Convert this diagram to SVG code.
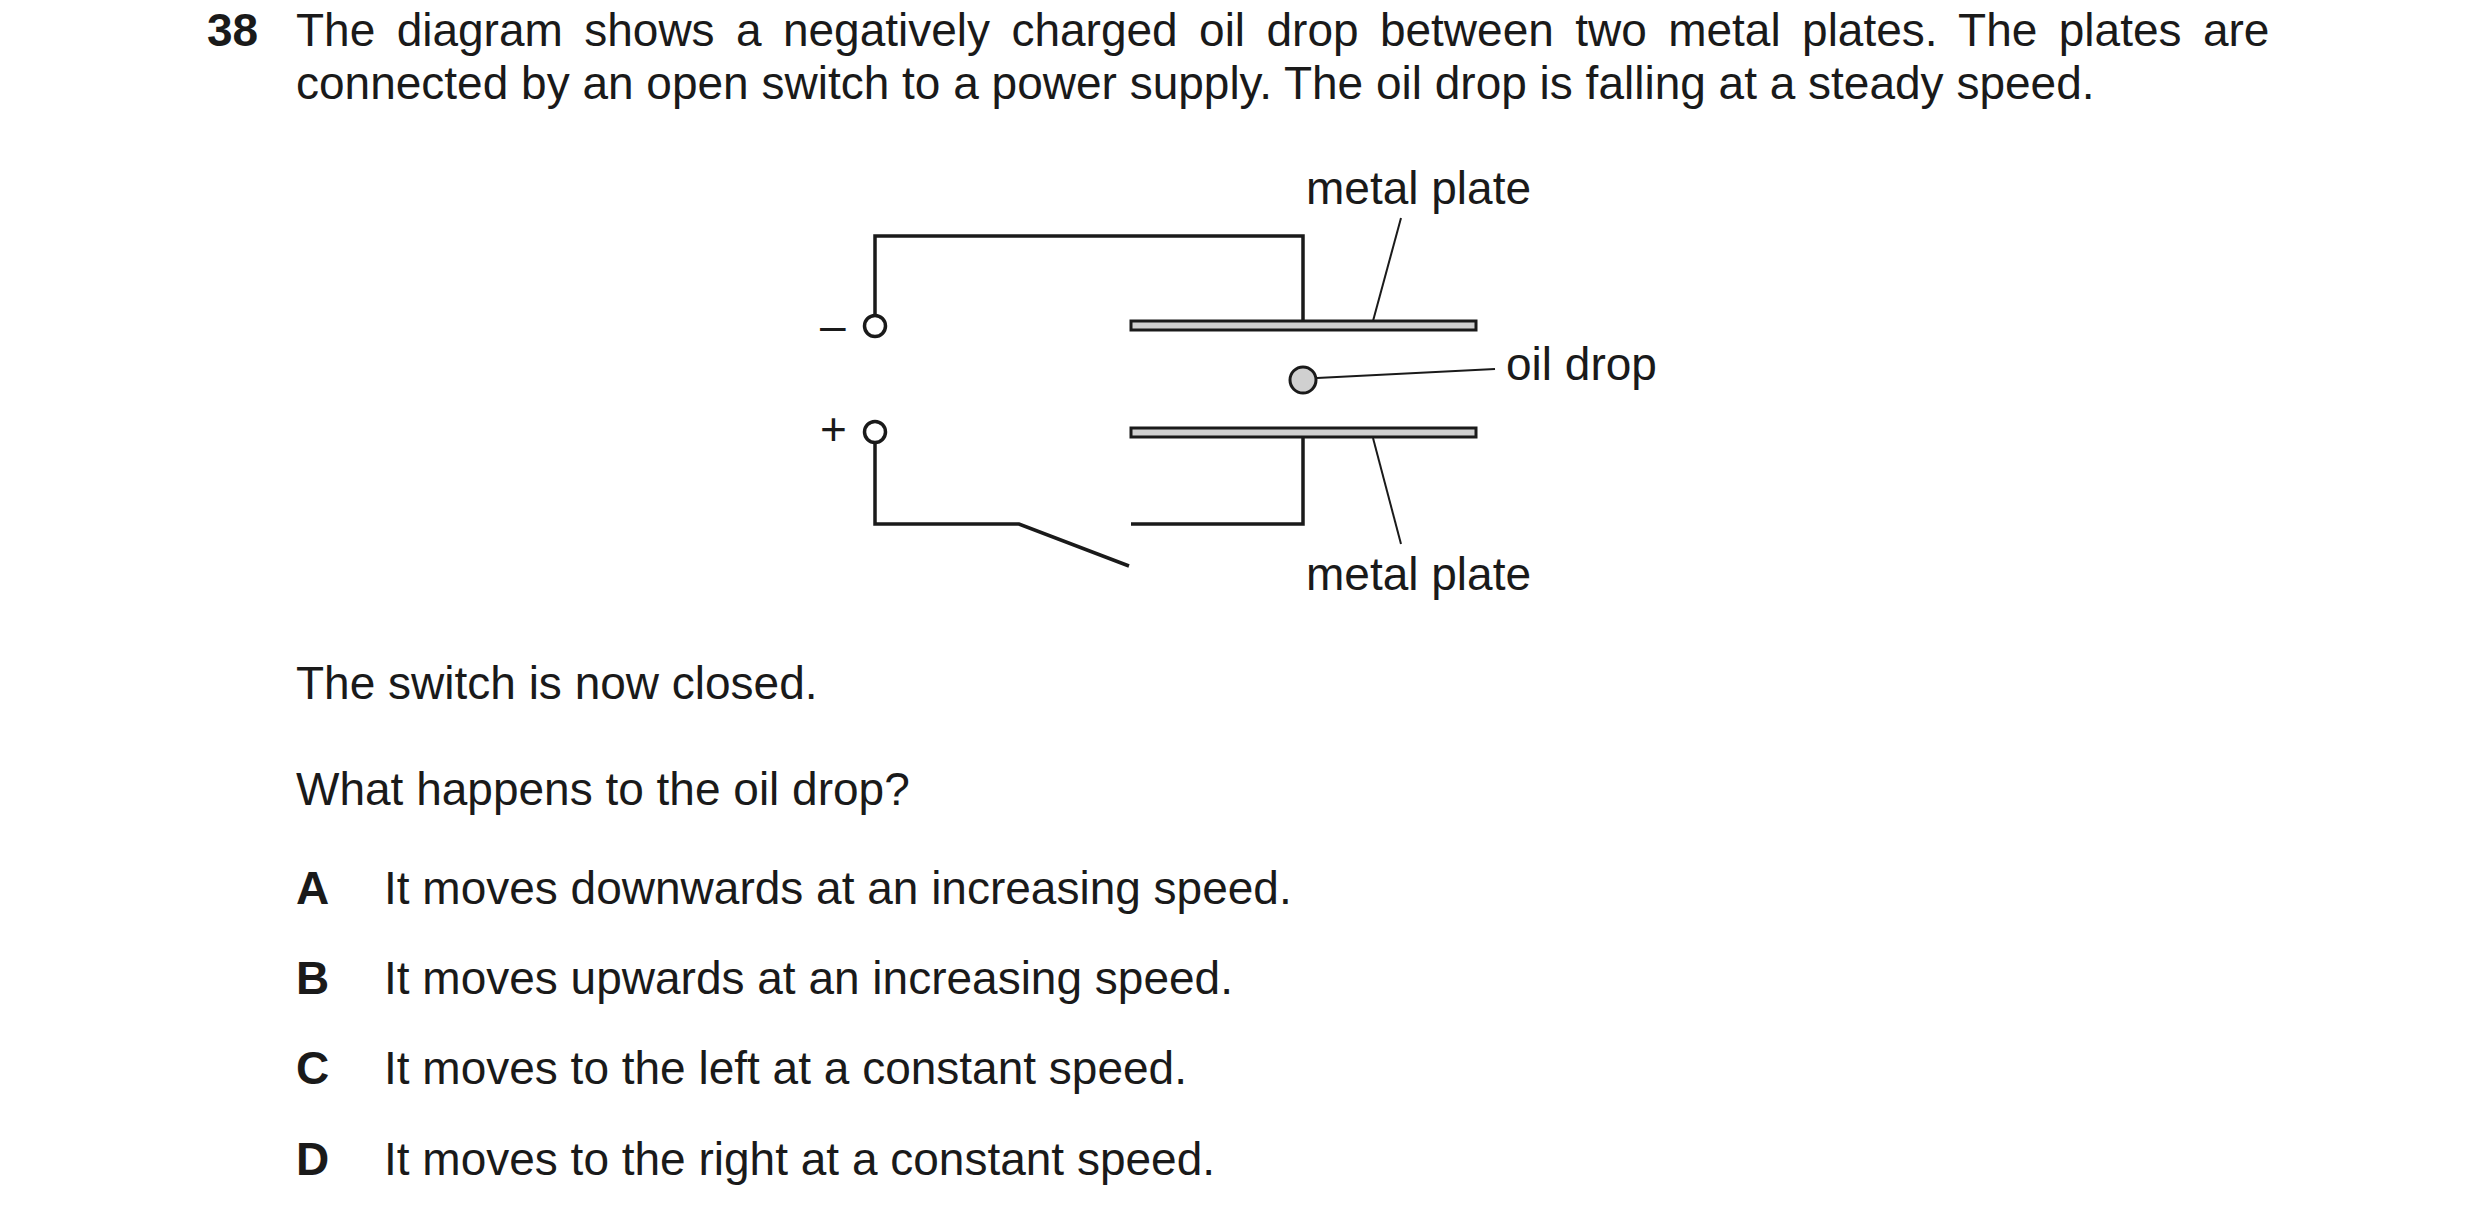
<svg xmlns="http://www.w3.org/2000/svg" width="2480" height="1222" viewBox="0 0 2480 1222">
<style>
text{font-family:"Liberation Sans",Arial,sans-serif;font-size:46px;fill:#1a1a1a}
.b{font-weight:bold}
.w{fill:none;stroke:#1a1a1a;stroke-width:3.5}
.t{fill:none;stroke:#1a1a1a;stroke-width:2}
.p{fill:#d0d0d0;stroke:#1a1a1a;stroke-width:3}
</style>
<rect width="2480" height="1222" fill="#fff"/>
<g id="question">
<text x="207" y="46" class="b">38</text>
<text x="296" y="46" word-spacing="8.6">The diagram shows a negatively charged oil drop between two metal plates. The plates are</text>
<text x="296" y="99">connected by an open switch to a power supply. The oil drop is falling at a steady speed.</text>
</g>
<g id="connectors">
<polyline class="w" points="875,315 875,236 1303,236 1303,321"/>
<polyline class="w" points="875,443 875,524 1019,524 1129,566"/>
<polyline class="w" points="1131,524 1303,524 1303,438"/>
<line class="t" x1="1401" y1="218" x2="1373" y2="321"/>
<line class="t" x1="1373" y1="438" x2="1401" y2="544"/>
<line class="t" x1="1317" y1="378" x2="1495" y2="369"/>
</g>
<g id="top-plate"><rect class="p" x="1131" y="321" width="345" height="9"/><text x="1306" y="204">metal plate</text></g>
<g id="bottom-plate"><rect class="p" x="1131" y="428" width="345" height="9"/><text x="1306" y="590">metal plate</text></g>
<g id="oil-drop"><circle class="p" cx="1303" cy="380" r="13"/><text x="1506" y="380">oil drop</text></g>
<g id="neg-terminal"><circle cx="875" cy="326" r="10.5" fill="#fff" stroke="#1a1a1a" stroke-width="3.5"/><text x="820" y="341">–</text></g>
<g id="pos-terminal"><circle cx="875" cy="432" r="10.5" fill="#fff" stroke="#1a1a1a" stroke-width="3.5"/><text x="820" y="445">+</text></g>
<g id="answers">
<text x="296" y="699">The switch is now closed.</text>
<text x="296" y="805">What happens to the oil drop?</text>
<text x="296" y="904" class="b">A</text><text x="384" y="904">It moves downwards at an increasing speed.</text>
<text x="296" y="994" class="b">B</text><text x="384" y="994">It moves upwards at an increasing speed.</text>
<text x="296" y="1084" class="b">C</text><text x="384" y="1084">It moves to the left at a constant speed.</text>
<text x="296" y="1175" class="b">D</text><text x="384" y="1175">It moves to the right at a constant speed.</text>
</g>
</svg>
